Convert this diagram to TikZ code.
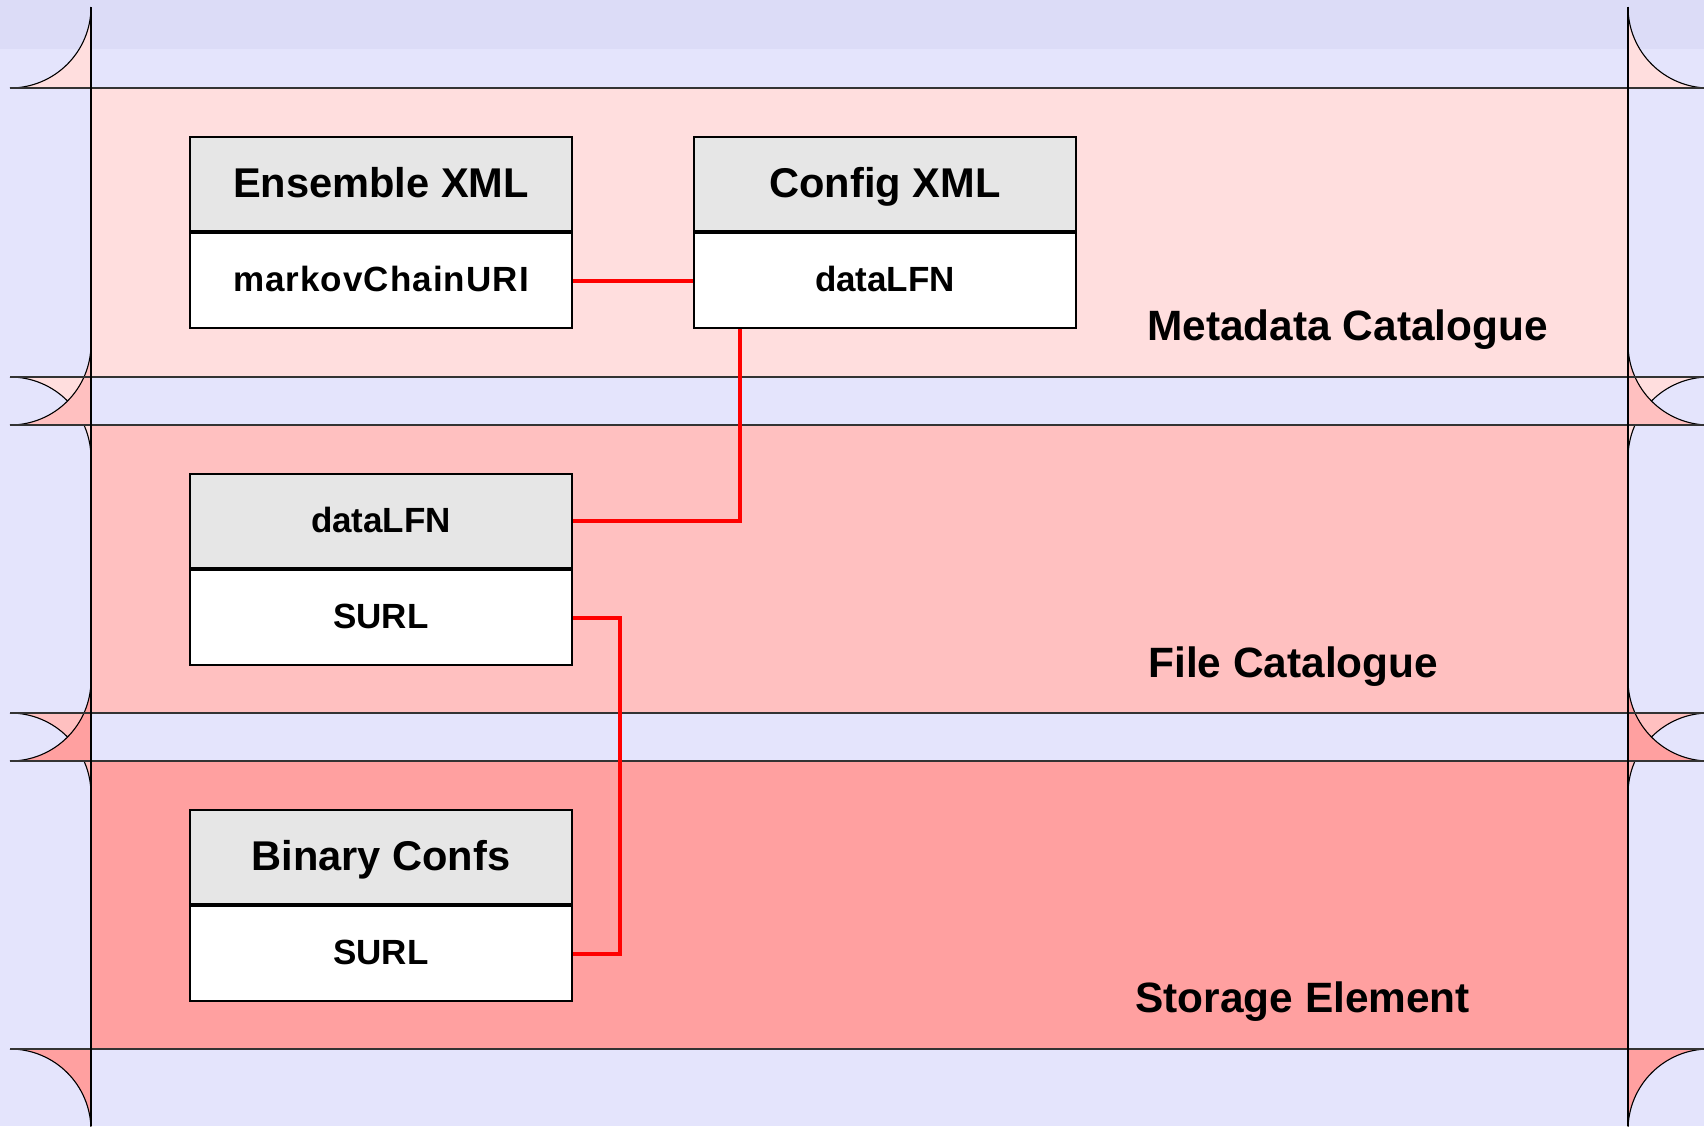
\documentclass[tikz,border=0pt]{standalone}
\usepackage{fontspec}
\setmainfont{Liberation Sans}
\definecolor{lav}{RGB}{228,228,252}
\definecolor{lavtop}{RGB}{220,220,247}
\definecolor{pinkA}{RGB}{255,222,222}
\definecolor{pinkB}{RGB}{255,192,192}
\definecolor{pinkC}{RGB}{255,160,160}
\definecolor{hdrgray}{RGB}{230,230,230}
\newcommand\myband[3]{%
  \fill[#3] (91,#1) rectangle (1628,#2);
  \fill[#3] (91,#1) -- (10,#1) .. controls (54.74,#1) and (91,{#1-36.26}) .. (91,{#1-81}) -- cycle;
  \draw[arcline] (10,#1) .. controls (54.74,#1) and (91,{#1-36.26}) .. (91,{#1-81});
  \fill[#3] (91,#2) -- (10,#2) .. controls (54.74,#2) and (91,{#2+36.26}) .. (91,{#2+81}) -- cycle;
  \draw[arcline] (10,#2) .. controls (54.74,#2) and (91,{#2+36.26}) .. (91,{#2+81});
  \fill[#3] (1628,#1) -- (1709,#1) .. controls (1664.26,#1) and (1628,{#1-36.26}) .. (1628,{#1-81}) -- cycle;
  \draw[arcline] (1709,#1) .. controls (1664.26,#1) and (1628,{#1-36.26}) .. (1628,{#1-81});
  \fill[#3] (1628,#2) -- (1709,#2) .. controls (1664.26,#2) and (1628,{#2+36.26}) .. (1628,{#2+81}) -- cycle;
  \draw[arcline] (1709,#2) .. controls (1664.26,#2) and (1628,{#2+36.26}) .. (1628,{#2+81});
}
\tikzset{
  arcline/.style={draw=black, line width=0.55pt},
  hline/.style={draw=black!80, line width=0.6pt},
  vline/.style={draw=black, line width=0.6pt},
  hdr/.style={draw=black, line width=1pt, fill=hdrgray, minimum width=191pt, minimum height=47.2pt,
    inner sep=0pt, anchor=north west, font=\fontsize{20.8}{25}\selectfont\bfseries,
    text height=12.9pt, text depth=0pt},
  hdrsmall/.style={hdr, font=\fontsize{17.5}{21}\selectfont\bfseries, text height=10.8pt},
  bdy/.style={draw=black, line width=1pt, fill=white, minimum width=191pt, minimum height=47.2pt,
    inner sep=0pt, anchor=north, font=\fontsize{17.5}{21}\selectfont\bfseries,
    text height=10.8pt, text depth=0pt},
  lbl/.style={inner sep=0pt, anchor=base west, font=\fontsize{21.2}{25}\selectfont\bfseries},
  link/.style={draw=red, line width=2pt},
}
\begin{document}
\begin{tikzpicture}[x=0.5pt,y=-0.5pt]
\useasboundingbox (0,0) rectangle (1704,1126);
\clip (0,0) rectangle (1704,1126);
\fill[lav] (0,0) rectangle (1704,1126);
\fill[lavtop] (0,0) rectangle (1704,49);
\myband{88}{377}{pinkA}
\myband{425}{713}{pinkB}
\myband{761}{1049}{pinkC}
\foreach \yy in {88,377,425,713,761,1049} {\draw[hline] (10,\yy) -- (1704,\yy);}
\draw[vline] (91,7) -- (91,1126);
\draw[vline] (1628,7) -- (1628,1126);
% boxes
\node[hdr] (ensH) at (189,136) {Ensemble XML};
\node[bdy] (ensB) at (ensH.south) {\addfontfeature{LetterSpace=3}markovChainURI};
\node[hdr] (cfgH) at (693,136) {Config XML};
\node[bdy] (cfgB) at (cfgH.south) {dataLFN};
\node[hdr, hdrsmall] (fcH) at (189,473) {dataLFN};
\node[bdy] (fcB) at (fcH.south) {SURL};
\node[hdr] (binH) at (189,809) {Binary Confs};
\node[bdy] (binB) at (binH.south) {SURL};
% labels
\node[lbl] (mdl) at (1147,340) {Metadata Catalogue};
\node[lbl] (fcl) at (1148,677) {File Catalogue};
\node[lbl] (sel) at (1135,1012) {Storage Element};
% connectors
\coordinate (cdown) at ([xshift=23.5pt]cfgB.south west);
\draw[link] (ensB.east) -- (cfgB.west);
\draw[link] (cdown) |- (fcH.east);
\draw[link] (fcB.east) -- ++(47,0) |- (binB.east);
\end{tikzpicture}
\end{document}
